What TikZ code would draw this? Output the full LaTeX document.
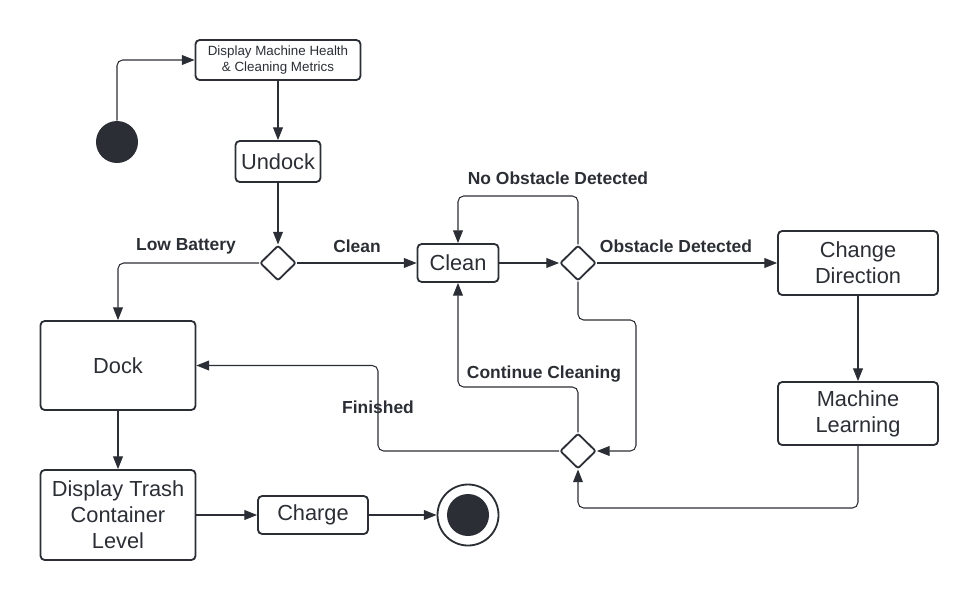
\documentclass[tikz,border=0pt]{standalone}
\usepackage{fontspec}
\setmainfont{Liberation Sans}
\usetikzlibrary{shapes.geometric,arrows.meta}
\definecolor{ink}{HTML}{2B2E34}
\newcommand{\boxline}{1.3pt}
\newcommand{\linkline}{0.75pt}
\newcommand{\BigText}{\fontsize{15.5}{18.5}\selectfont}
\newcommand{\SmallText}{\fontsize{9.5}{11.5}\selectfont}
\newcommand{\GuardText}{\fontsize{12.4}{14}\selectfont\bfseries}
\tikzset{
  state/.style={draw=ink,line width=\boxline,rounded corners=3pt,align=center,text=ink,font=\BigText,inner sep=0pt},
  choice/.style={draw=ink,line width=\boxline,diamond,minimum width=0.9cm,minimum height=0.88cm,inner sep=0pt,rounded corners=1.5pt},
  flow/.style={draw=ink,line width=\linkline,rounded corners=4pt,-{Triangle[length=9pt,width=7pt]}},
  guard/.style={text=ink,font=\GuardText}
}
\begin{document}
\begin{tikzpicture}[x=0.025cm,y=-0.025cm]
\useasboundingbox (0,0) rectangle (978,600);

% States
\node (start) [fill=ink,circle,minimum size=1.05cm,inner sep=0pt] at (117,142) {};
\node (health) [state,font=\SmallText,minimum width=4.125cm,minimum height=1cm] at (278,60) {Display Machine Health\\\& Cleaning Metrics};
\node (undock) [state,minimum width=2.125cm,minimum height=1.025cm] at (278,161.5) {Undock};
\node (clean) [state,minimum width=2.025cm,minimum height=0.95cm] at (458,263) {Clean};
\node (change) [state,minimum width=4cm,minimum height=1.6cm] at (858,263) {Change\\Direction};
\node (learn) [state,minimum width=4cm,minimum height=1.575cm] at (858,413.5) {Machine\\Learning};
\node (dock) [state,minimum width=3.875cm,minimum height=2.225cm] at (118,365.5) {Dock};
\node (trash) [state,minimum width=3.875cm,minimum height=2.25cm] at (118,515) {Display Trash\\Container\\Level};
\node (charge) [state,minimum width=2.75cm,minimum height=0.95cm] at (313,515) {Charge};
\node (stop) [draw=ink,line width=\boxline,circle,minimum size=1.525cm,inner sep=0pt] at (468,515) {};
\node (stopdot) [fill=ink,circle,minimum size=1.05cm,inner sep=0pt] at (stop) {};

% Decisions
\node (d1) [choice] at (278,263) {};
\node (d2) [choice] at (578,263) {};
\node (d3) [choice] at (578,451) {};

% Guards
\node (lowbat) [guard] at (186,246) {Low Battery};
\node (goclean) [guard] at (357,246) {Clean};
\node (noobst) [guard] at (558,178) {No Obstacle Detected};
\node (obst) [guard] at (676,246) {Obstacle Detected};
\node (cont) [guard] at (544,374) {Continue Cleaning};
\node (done) [guard] at (378,407) {Finished};

% Turning points
\coordinate (toprow) at (0,196);
\coordinate (turn) at (636,320);
\coordinate (backrow) at (0,387);
\coordinate (fincol) at (378,0);
\coordinate (botrow) at (0,508);

% Transitions
\draw[flow] (start.north) |- (health.west);
\draw[flow] (health.south) -- (undock.north);
\draw[flow] (undock.south) -- (d1.north);
\draw[flow] (d1.west) -| (dock.north);
\draw[flow] (d1.east) -- (clean.west);
\draw[flow] (clean.east) -- (d2.west);
\draw[flow] (d2.north) -- (d2.north |- toprow) -| (clean.north);
\draw[flow] (d2.east) -- (change.west);
\draw[flow] (d2.south) |- (turn) |- (d3.east);
\draw[flow] (change.south) -- (learn.north);
\draw[flow] (learn.south) -- (learn.south |- botrow) -| (d3.south);
\draw[flow] (d3.north) -- (d3.north |- backrow) -| (clean.south);
\draw[flow] (d3.west) -| (fincol |- dock.east) -- (dock.east);
\draw[flow] (dock.south) -- (trash.north);
\draw[flow] (trash.east |- charge.west) -- (charge.west);
\draw[flow] (charge.east) -- (stop.west);

\end{tikzpicture}
\end{document}
